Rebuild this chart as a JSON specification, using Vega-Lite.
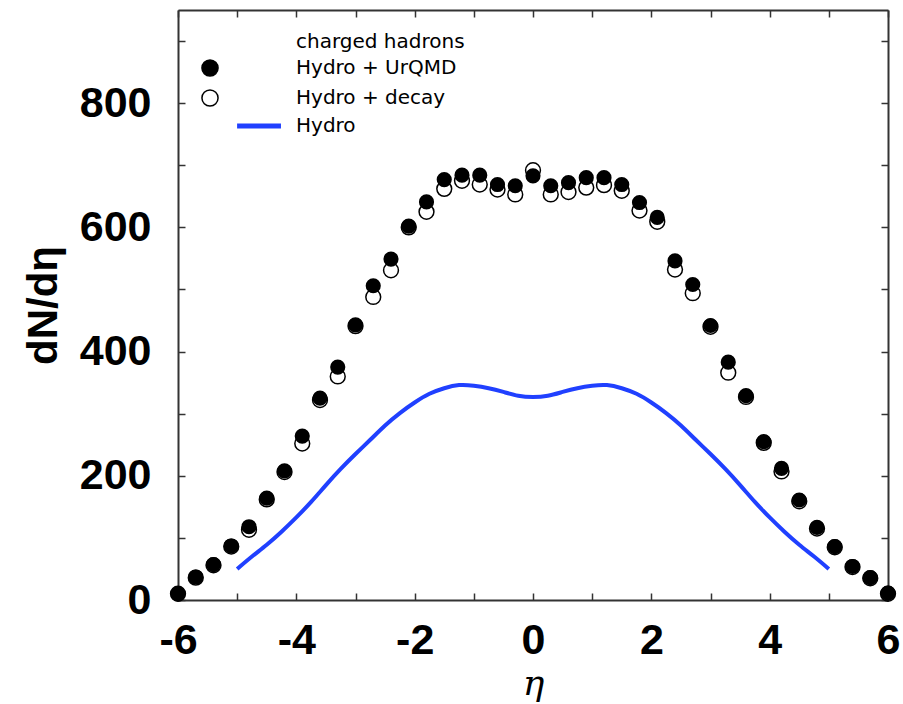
{
  "$schema": "https://vega.github.io/schema/vega-lite/v6.json",
  "width": 710,
  "height": 590,
  "autosize": {"type": "none"},
  "padding": {"left": 178, "top": 10, "right": 15, "bottom": 104},
  "background": "white",
  "config": {
    "view": {"stroke": null},
    "axis": {
      "grid": false,
      "domainColor": "#333333",
      "domainWidth": 2,
      "tickColor": "#333333",
      "tickWidth": 1.5,
      "labelFont": "Liberation Sans",
      "labelFontWeight": "bold",
      "labelFontSize": 43,
      "labelColor": "black",
      "labelFlush": false,
      "labelOverlap": false
    },
    "legend": {
      "orient": "none",
      "legendX": 22,
      "legendY": 22,
      "titleFont": "DejaVu Sans",
      "titleFontSize": 20,
      "titleFontWeight": "normal",
      "titleColor": "black",
      "titlePadding": 6,
      "labelFont": "DejaVu Sans",
      "labelFontSize": 20,
      "labelColor": "black",
      "labelLimit": 0,
      "labelOffset": 76,
      "rowPadding": 6,
      "symbolSize": 260
    }
  },
  "data": {
    "values": [
      {"eta": -6.0, "dndeta": 10, "series": "Hydro + UrQMD"},
      {"eta": -5.7, "dndeta": 37, "series": "Hydro + UrQMD"},
      {"eta": -5.4, "dndeta": 57, "series": "Hydro + UrQMD"},
      {"eta": -5.1, "dndeta": 87, "series": "Hydro + UrQMD"},
      {"eta": -4.8, "dndeta": 118, "series": "Hydro + UrQMD"},
      {"eta": -4.5, "dndeta": 164, "series": "Hydro + UrQMD"},
      {"eta": -4.2, "dndeta": 208, "series": "Hydro + UrQMD"},
      {"eta": -3.9, "dndeta": 264, "series": "Hydro + UrQMD"},
      {"eta": -3.6, "dndeta": 325, "series": "Hydro + UrQMD"},
      {"eta": -3.3, "dndeta": 375, "series": "Hydro + UrQMD"},
      {"eta": -3.0, "dndeta": 443, "series": "Hydro + UrQMD"},
      {"eta": -2.7, "dndeta": 506, "series": "Hydro + UrQMD"},
      {"eta": -2.4, "dndeta": 549, "series": "Hydro + UrQMD"},
      {"eta": -2.1, "dndeta": 602, "series": "Hydro + UrQMD"},
      {"eta": -1.8, "dndeta": 641, "series": "Hydro + UrQMD"},
      {"eta": -1.5, "dndeta": 677, "series": "Hydro + UrQMD"},
      {"eta": -1.2, "dndeta": 684, "series": "Hydro + UrQMD"},
      {"eta": -0.9, "dndeta": 684, "series": "Hydro + UrQMD"},
      {"eta": -0.6, "dndeta": 669, "series": "Hydro + UrQMD"},
      {"eta": -0.3, "dndeta": 667, "series": "Hydro + UrQMD"},
      {"eta": 0.0, "dndeta": 683, "series": "Hydro + UrQMD"},
      {"eta": 0.3, "dndeta": 667, "series": "Hydro + UrQMD"},
      {"eta": 0.6, "dndeta": 672, "series": "Hydro + UrQMD"},
      {"eta": 0.9, "dndeta": 680, "series": "Hydro + UrQMD"},
      {"eta": 1.2, "dndeta": 680, "series": "Hydro + UrQMD"},
      {"eta": 1.5, "dndeta": 669, "series": "Hydro + UrQMD"},
      {"eta": 1.8, "dndeta": 640, "series": "Hydro + UrQMD"},
      {"eta": 2.1, "dndeta": 616, "series": "Hydro + UrQMD"},
      {"eta": 2.4, "dndeta": 546, "series": "Hydro + UrQMD"},
      {"eta": 2.7, "dndeta": 508, "series": "Hydro + UrQMD"},
      {"eta": 3.0, "dndeta": 442, "series": "Hydro + UrQMD"},
      {"eta": 3.3, "dndeta": 383, "series": "Hydro + UrQMD"},
      {"eta": 3.6, "dndeta": 329, "series": "Hydro + UrQMD"},
      {"eta": 3.9, "dndeta": 255, "series": "Hydro + UrQMD"},
      {"eta": 4.2, "dndeta": 212, "series": "Hydro + UrQMD"},
      {"eta": 4.5, "dndeta": 161, "series": "Hydro + UrQMD"},
      {"eta": 4.8, "dndeta": 117, "series": "Hydro + UrQMD"},
      {"eta": 5.1, "dndeta": 86, "series": "Hydro + UrQMD"},
      {"eta": 5.4, "dndeta": 54, "series": "Hydro + UrQMD"},
      {"eta": 5.7, "dndeta": 36, "series": "Hydro + UrQMD"},
      {"eta": 6.0, "dndeta": 11, "series": "Hydro + UrQMD"},
      {"eta": -6.0, "dndeta": 10, "series": "Hydro + decay"},
      {"eta": -5.7, "dndeta": 36, "series": "Hydro + decay"},
      {"eta": -5.4, "dndeta": 56, "series": "Hydro + decay"},
      {"eta": -5.1, "dndeta": 86, "series": "Hydro + decay"},
      {"eta": -4.8, "dndeta": 113, "series": "Hydro + decay"},
      {"eta": -4.5, "dndeta": 162, "series": "Hydro + decay"},
      {"eta": -4.2, "dndeta": 206, "series": "Hydro + decay"},
      {"eta": -3.9, "dndeta": 252, "series": "Hydro + decay"},
      {"eta": -3.6, "dndeta": 322, "series": "Hydro + decay"},
      {"eta": -3.3, "dndeta": 360, "series": "Hydro + decay"},
      {"eta": -3.0, "dndeta": 441, "series": "Hydro + decay"},
      {"eta": -2.7, "dndeta": 488, "series": "Hydro + decay"},
      {"eta": -2.4, "dndeta": 531, "series": "Hydro + decay"},
      {"eta": -2.1, "dndeta": 600, "series": "Hydro + decay"},
      {"eta": -1.8, "dndeta": 625, "series": "Hydro + decay"},
      {"eta": -1.5, "dndeta": 662, "series": "Hydro + decay"},
      {"eta": -1.2, "dndeta": 675, "series": "Hydro + decay"},
      {"eta": -0.9, "dndeta": 669, "series": "Hydro + decay"},
      {"eta": -0.6, "dndeta": 661, "series": "Hydro + decay"},
      {"eta": -0.3, "dndeta": 653, "series": "Hydro + decay"},
      {"eta": 0.0, "dndeta": 692, "series": "Hydro + decay"},
      {"eta": 0.3, "dndeta": 653, "series": "Hydro + decay"},
      {"eta": 0.6, "dndeta": 657, "series": "Hydro + decay"},
      {"eta": 0.9, "dndeta": 664, "series": "Hydro + decay"},
      {"eta": 1.2, "dndeta": 668, "series": "Hydro + decay"},
      {"eta": 1.5, "dndeta": 659, "series": "Hydro + decay"},
      {"eta": 1.8, "dndeta": 627, "series": "Hydro + decay"},
      {"eta": 2.1, "dndeta": 609, "series": "Hydro + decay"},
      {"eta": 2.4, "dndeta": 532, "series": "Hydro + decay"},
      {"eta": 2.7, "dndeta": 494, "series": "Hydro + decay"},
      {"eta": 3.0, "dndeta": 440, "series": "Hydro + decay"},
      {"eta": 3.3, "dndeta": 366, "series": "Hydro + decay"},
      {"eta": 3.6, "dndeta": 327, "series": "Hydro + decay"},
      {"eta": 3.9, "dndeta": 253, "series": "Hydro + decay"},
      {"eta": 4.2, "dndeta": 207, "series": "Hydro + decay"},
      {"eta": 4.5, "dndeta": 159, "series": "Hydro + decay"},
      {"eta": 4.8, "dndeta": 115, "series": "Hydro + decay"},
      {"eta": 5.1, "dndeta": 85, "series": "Hydro + decay"},
      {"eta": 5.4, "dndeta": 53, "series": "Hydro + decay"},
      {"eta": 5.7, "dndeta": 35, "series": "Hydro + decay"},
      {"eta": 6.0, "dndeta": 10, "series": "Hydro + decay"},
      {"eta": -5.0, "dndeta": 50, "series": "Hydro"},
      {"eta": -4.75, "dndeta": 70, "series": "Hydro"},
      {"eta": -4.5, "dndeta": 89, "series": "Hydro"},
      {"eta": -4.25, "dndeta": 110, "series": "Hydro"},
      {"eta": -4.0, "dndeta": 133, "series": "Hydro"},
      {"eta": -3.75, "dndeta": 158, "series": "Hydro"},
      {"eta": -3.5, "dndeta": 185, "series": "Hydro"},
      {"eta": -3.25, "dndeta": 211, "series": "Hydro"},
      {"eta": -3.0, "dndeta": 235, "series": "Hydro"},
      {"eta": -2.75, "dndeta": 258, "series": "Hydro"},
      {"eta": -2.5, "dndeta": 281, "series": "Hydro"},
      {"eta": -2.25, "dndeta": 301, "series": "Hydro"},
      {"eta": -2.0, "dndeta": 318, "series": "Hydro"},
      {"eta": -1.75, "dndeta": 332, "series": "Hydro"},
      {"eta": -1.5, "dndeta": 341, "series": "Hydro"},
      {"eta": -1.25, "dndeta": 346, "series": "Hydro"},
      {"eta": -1.0, "dndeta": 345, "series": "Hydro"},
      {"eta": -0.75, "dndeta": 341, "series": "Hydro"},
      {"eta": -0.5, "dndeta": 335, "series": "Hydro"},
      {"eta": -0.25, "dndeta": 329, "series": "Hydro"},
      {"eta": 0.0, "dndeta": 327, "series": "Hydro"},
      {"eta": 0.25, "dndeta": 329, "series": "Hydro"},
      {"eta": 0.5, "dndeta": 335, "series": "Hydro"},
      {"eta": 0.75, "dndeta": 341, "series": "Hydro"},
      {"eta": 1.0, "dndeta": 345, "series": "Hydro"},
      {"eta": 1.25, "dndeta": 346, "series": "Hydro"},
      {"eta": 1.5, "dndeta": 341, "series": "Hydro"},
      {"eta": 1.75, "dndeta": 332, "series": "Hydro"},
      {"eta": 2.0, "dndeta": 318, "series": "Hydro"},
      {"eta": 2.25, "dndeta": 301, "series": "Hydro"},
      {"eta": 2.5, "dndeta": 281, "series": "Hydro"},
      {"eta": 2.75, "dndeta": 258, "series": "Hydro"},
      {"eta": 3.0, "dndeta": 235, "series": "Hydro"},
      {"eta": 3.25, "dndeta": 211, "series": "Hydro"},
      {"eta": 3.5, "dndeta": 185, "series": "Hydro"},
      {"eta": 3.75, "dndeta": 158, "series": "Hydro"},
      {"eta": 4.0, "dndeta": 133, "series": "Hydro"},
      {"eta": 4.25, "dndeta": 110, "series": "Hydro"},
      {"eta": 4.5, "dndeta": 89, "series": "Hydro"},
      {"eta": 4.75, "dndeta": 70, "series": "Hydro"},
      {"eta": 5.0, "dndeta": 50, "series": "Hydro"}
    ]
  },
  "layer": [
    {
      "transform": [{"filter": "datum.series === 'Hydro'"}],
      "mark": {"type": "line", "strokeWidth": 4, "interpolate": "natural"},
      "encoding": {
        "x": {
          "field": "eta", "type": "quantitative",
          "scale": {"domain": [-6, 6], "nice": false, "zero": false},
          "axis": {
            "orient": "bottom",
            "values": [-6, -5, -4, -3, -2, -1, 0, 1, 2, 3, 4, 5, 6],
            "labelExpr": "datum.value % 2 === 0 ? replace(datum.label, '−', '-') : ''",
            "tickSize": -7,
            "labelPadding": 26,
            "title": "η",
            "titleFont": "DejaVu Serif",
            "titleFontStyle": "italic",
            "titleFontWeight": "normal",
            "titleFontSize": 36,
            "titleColor": "black",
            "titlePadding": 4,
            "encode": {"ticks": {"update": {"y2": {"signal": "datum.value % 2 === 0 ? -7 : -4"}}}}
          }
        },
        "y": {
          "field": "dndeta", "type": "quantitative",
          "scale": {"domain": [0, 950], "nice": false, "zero": true},
          "axis": {
            "orient": "left",
            "values": [0, 100, 200, 300, 400, 500, 600, 700, 800, 900],
            "labelExpr": "datum.value % 200 === 0 ? datum.label : ''",
            "tickSize": -7,
            "labelPadding": 34,
            "title": "dN/dη",
            "titleFont": "Liberation Sans",
            "titleFontWeight": "bold",
            "titleFontSize": 42,
            "titleColor": "black",
            "titlePadding": 14,
            "encode": {"ticks": {"update": {"x2": {"signal": "datum.value % 200 === 0 ? 7 : 4"}}}}
          }
        },
        "color": {
          "field": "series", "type": "nominal",
          "scale": {"domain": ["Hydro + UrQMD", "Hydro + decay", "Hydro"], "range": ["black", "black", "#2040ff"]},
          "legend": {
            "title": "charged hadrons",
            "encode": {
              "symbols": {
                "update": {
                  "shape": {"signal": "datum.value === 'Hydro' ? 'M1.26,0L3.3,0' : 'circle'"},
                  "size": {"signal": "datum.value === 'Hydro' ? 1850 : 260"},
                  "fill": {"signal": "datum.value === 'Hydro + UrQMD' ? 'black' : 'transparent'"},
                  "fillOpacity": {"signal": "datum.value === 'Hydro + UrQMD' ? 1 : 0"},
                  "stroke": {"signal": "datum.value === 'Hydro' ? '#2040ff' : 'black'"},
                  "strokeWidth": {"signal": "datum.value === 'Hydro' ? 5 : 1.5"},
                  "opacity": {"value": 1},
                  "strokeOpacity": {"value": 1}
                }
              },
              "title": {"update": {"dx": {"value": 96}}}
            }
          }
        }
      }
    },
    {
      "transform": [{"filter": "datum.series === 'Hydro + UrQMD'"}],
      "mark": {"type": "point", "shape": "circle", "filled": true, "size": 230, "opacity": 1},
      "encoding": {
        "x": {
          "field": "eta", "type": "quantitative",
          "axis": {
            "orient": "top",
            "values": [-6, -5, -4, -3, -2, -1, 0, 1, 2, 3, 4, 5, 6],
            "labels": false,
            "title": null,
            "tickSize": -7,
            "encode": {"ticks": {"update": {"y2": {"signal": "datum.value % 2 === 0 ? 7 : 4"}}}}
          }
        },
        "y": {
          "field": "dndeta", "type": "quantitative",
          "axis": {
            "orient": "right",
            "values": [0, 100, 200, 300, 400, 500, 600, 700, 800, 900],
            "labels": false,
            "title": null,
            "tickSize": -7,
            "encode": {"ticks": {"update": {"x2": {"signal": "datum.value % 200 === 0 ? -7 : -4"}}}}
          }
        },
        "color": {
          "field": "series", "type": "nominal",
          "legend": {
            "title": "charged hadrons",
            "encode": {
              "symbols": {
                "update": {
                  "shape": {"signal": "datum.value === 'Hydro' ? 'M1.26,0L3.3,0' : 'circle'"},
                  "size": {"signal": "datum.value === 'Hydro' ? 1850 : 260"},
                  "fill": {"signal": "datum.value === 'Hydro + UrQMD' ? 'black' : 'transparent'"},
                  "fillOpacity": {"signal": "datum.value === 'Hydro + UrQMD' ? 1 : 0"},
                  "stroke": {"signal": "datum.value === 'Hydro' ? '#2040ff' : 'black'"},
                  "strokeWidth": {"signal": "datum.value === 'Hydro' ? 5 : 1.5"},
                  "opacity": {"value": 1},
                  "strokeOpacity": {"value": 1}
                }
              },
              "title": {"update": {"dx": {"value": 96}}}
            }
          }
        }
      }
    },
    {
      "transform": [{"filter": "datum.series === 'Hydro + decay'"}],
      "mark": {"type": "point", "shape": "circle", "filled": false, "size": 220, "strokeWidth": 1.5, "opacity": 1},
      "encoding": {
        "x": {"field": "eta", "type": "quantitative", "axis": null},
        "y": {"field": "dndeta", "type": "quantitative", "axis": null},
        "color": {
          "field": "series", "type": "nominal",
          "legend": {
            "title": "charged hadrons",
            "encode": {
              "symbols": {
                "update": {
                  "shape": {"signal": "datum.value === 'Hydro' ? 'M1.26,0L3.3,0' : 'circle'"},
                  "size": {"signal": "datum.value === 'Hydro' ? 1850 : 260"},
                  "fill": {"signal": "datum.value === 'Hydro + UrQMD' ? 'black' : 'transparent'"},
                  "fillOpacity": {"signal": "datum.value === 'Hydro + UrQMD' ? 1 : 0"},
                  "stroke": {"signal": "datum.value === 'Hydro' ? '#2040ff' : 'black'"},
                  "strokeWidth": {"signal": "datum.value === 'Hydro' ? 5 : 1.5"},
                  "opacity": {"value": 1},
                  "strokeOpacity": {"value": 1}
                }
              },
              "title": {"update": {"dx": {"value": 96}}}
            }
          }
        }
      }
    }
  ],
  "resolve": {"axis": {"x": "independent", "y": "independent"}}
}
